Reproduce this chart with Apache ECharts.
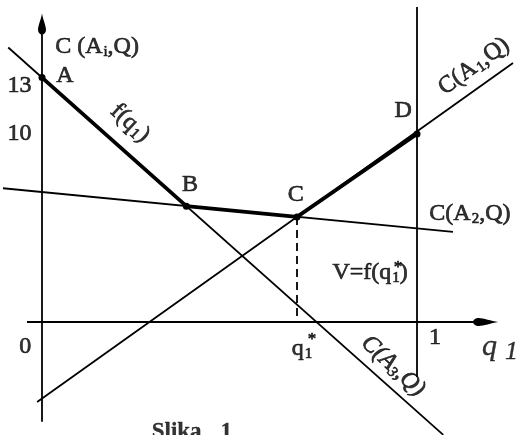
<!DOCTYPE html>
<html>
<head>
<meta charset="utf-8">
<script src="https://cdn.jsdelivr.net/npm/echarts@6/dist/echarts.min.js"></script>
<style>
  html, body { margin: 0; padding: 0; background: #fff; }
  #chart { width: 518px; height: 435px; }
</style>
</head>
<body>
<div id="chart"></div>
<script>
// Cost lines C(A_i, Q) over q1, each given by its two drawn end points [q1, cost]
const lineA1 = [[-0.013, -4.26], [1.256, 13.78]];
const lineA2 = [[-0.112, 7.13], [1.096, 4.79]];
const lineA3 = [[-0.09, 14.6], [1.07, -6.0]];

// Upper envelope f(q1) through the corner points A, B, C, D
const envelopeNames = ['A', 'B', 'C', 'D'];
const envelope = [[0, 13], [0.385, 6.16], [0.68, 5.59], [1, 10]];

// Optimal mixing probability q1*
const qStar = 0.68;

// Tick labels
const yTickLabels = ['13', '10'];
const yTickValues = [13, 10];
const xTickLabels = ['0', '1'];
const xTickValues = [0, 1];

const INK = '#000';
const FONT = 'Liberation Serif';

const chart = echarts.init(document.getElementById('chart'), null, { renderer: 'canvas' });

// a thin outline thickens the printed-looking glyphs
const ink = { color: INK, fontFamily: FONT, textBorderColor: INK, textBorderWidth: 0.7 };
const rich = {
  n: Object.assign({ fontSize: 24 }, ink),
  s: Object.assign({ fontSize: 15, padding: [10, 0, 0, 1] }, ink),
  st: Object.assign({ fontSize: 17 }, ink),
  it: Object.assign({ fontSize: 24, fontStyle: 'italic' }, ink),
  its: Object.assign({ fontSize: 15, fontStyle: 'italic', padding: [10, 0, 0, 0] }, ink),
  big: Object.assign({ fontSize: 30, fontStyle: 'italic' }, ink, { textBorderWidth: 0.4 }),
  bigs: Object.assign({ fontSize: 26, fontStyle: 'italic', padding: [10, 0, 0, 8] }, ink, { textBorderWidth: 0.4 }),
  cap: Object.assign({ fontSize: 23, fontWeight: 'bold' }, ink, { textBorderWidth: 0.3 })
};

// Text annotations placed in data coordinates
const notes = [
  { v: [0.035, 14.63], t: '{n|C (A}{s|i}{n|,Q)}', align: 'left' },
  { v: [0.061, 13.09], t: '{n|A}' },
  { v: [0.395, 7.29], t: '{n|B}' },
  { v: [0.677, 6.76], t: '{n|C}' },
  { v: [0.963, 11.22], t: '{n|D}' },
  { v: [0.235, 10.58], t: '{n|f(q}{s|1}{n|)}', rotate: -43 },
  { v: [1.152, 13.6], t: '{n|C(A}{s|1}{n|,Q)}', rotate: 36 },
  { v: [1.141, 5.74], t: '{n|C(A}{s|2}{n|,Q)}' },
  { v: [0.936, -2.35], t: '{it|C(A}{its|3}{it|,Q)}', rotate: -43 },
  { v: [0.875, 2.62], t: '{n|V=f(q}{s|1}{n|)}' },
  { v: [0.949, 2.9], t: '{st|*}' },
  { v: [0.693, -1.44], t: '{n|q}{s|1}' },
  { v: [0.72, -0.95], t: '{st|*}' },
  { v: [1.221, -1.33], t: '{big|q}{bigs|1}' },
  { v: [0.359, -5.85], t: '{cap|Slika}' },
  { v: [0.491, -5.85], t: '{cap|1}' }
];
yTickLabels.forEach((lab, i) => {
  notes.push({ v: [-0.06, yTickValues[i] - (i === 0 ? 0.45 : 0)], t: '{n|' + lab + '}' });
});
xTickLabels.forEach((lab, i) => {
  notes.push({ v: xTickValues[i] === 0 ? [-0.045, -1.33] : [1.048, -0.85], t: '{n|' + lab + '}' });
});

const thin = { color: INK, width: 1.8 };
const arrowUp = 'path://M4,0 C5,6 8,13 8,17 C8,20 6,22 4,22 C2,22 0,20 0,17 C0,13 3,6 4,0 Z';

function seg(data, style, extra) {
  return Object.assign({
    type: 'line', data: data, symbol: 'none', silent: true, clip: false,
    lineStyle: style, itemStyle: { color: INK }, z: 3
  }, extra || {});
}

const option = {
  animation: false,
  backgroundColor: '#fff',
  grid: { left: 4.5, top: 2.4, width: 525, height: 432.4, containLabel: false, outerBoundsMode: 'none' },
  xAxis: { type: 'value', min: -0.1, max: 1.3, show: false },
  yAxis: { type: 'value', min: -6, max: 17, show: false },
  series: [
    // vertical cost axis with arrow head
    seg([[0, -5.3], { value: [0, 15.85], symbol: arrowUp, symbolSize: [8, 21] }],
        thin, { showSymbol: true }),
    // horizontal q1 axis with arrow head
    seg([[-0.04, 0], { value: [1.183, 0], symbol: arrowUp, symbolSize: [8, 25], symbolRotate: -90 }],
        thin, { showSymbol: true }),
    // q1 = 1
    seg([[1, -2.93], [1, 16.75]], thin),
    // the three cost lines
    seg(lineA1, thin),
    seg(lineA2, thin),
    seg(lineA3, thin),
    // dashed drop from C to q1*
    seg([[qStar, envelope[2][1]], [qStar, 0]], { color: INK, width: 1.8, type: [8, 5] }),
    // envelope f(q1)
    {
      type: 'line', silent: true, clip: false, z: 4,
      data: envelope.map((p, i) => ({ name: envelopeNames[i], value: p })),
      lineStyle: { color: INK, width: 3.8 },
      symbol: 'circle', symbolSize: 7, showSymbol: true,
      itemStyle: { color: INK }
    },
    // annotations
    {
      type: 'scatter', silent: true, z: 5, symbolSize: 0,
      data: notes.map(n => ({
        value: n.v,
        label: {
          show: true, position: 'inside', formatter: n.t, rich: rich,
          rotate: n.rotate || 0, align: n.align || 'center'
        }
      }))
    }
  ]
};

chart.setOption(option);
</script>
</body>
</html>
